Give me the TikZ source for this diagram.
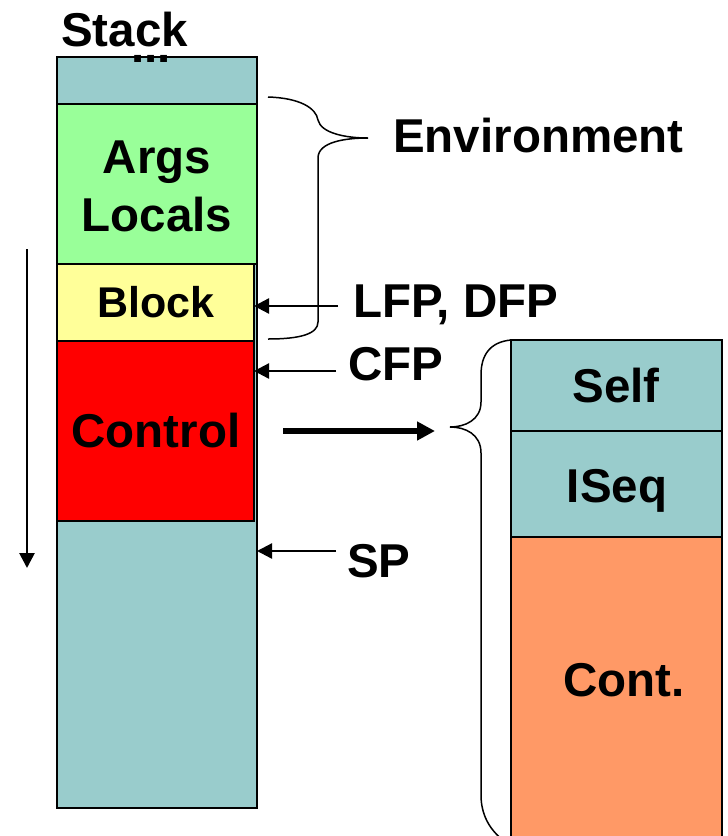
\documentclass[tikz,border=0pt]{standalone}
\usepackage{fontspec}
\setmainfont{Liberation Sans}
\usetikzlibrary{arrows.meta}
\definecolor{cellteal}{HTML}{99CCCC}
\definecolor{cellgreen}{HTML}{99FF99}
\definecolor{cellyellow}{HTML}{FFFF99}
\definecolor{cellred}{HTML}{FF0000}
\definecolor{cellorange}{HTML}{FF9966}

\begin{document}
\begin{tikzpicture}[x=1pt,y=-1pt,
    lbl/.style={font=\fontsize{47.5}{50}\selectfont\bfseries,inner sep=0pt},
    cell/.style={draw=black,line width=1.5pt,inner sep=0pt,outer sep=0pt,anchor=north west},
    ptr/.style={line width=2.3pt,-{Triangle[length=15pt,width=15pt]}},
    bigptr/.style={line width=6pt,-{Triangle[length=18pt,width=18pt]}},
    brace/.style={line width=1.5pt}]
    \path[use as bounding box] (0,0) rectangle (728,836);
    \clip (0,0) rectangle (728,836);
    % stack column
    \node[cell,fill=cellteal,minimum width=200pt,minimum height=751pt] (stack) at (57,57) {};
    \node[cell,fill=cellteal,minimum width=200pt,minimum height=47pt] (prev) at (57,57) {};
    \node[cell,fill=cellgreen,minimum width=200pt,minimum height=160pt] (env) at (57,104) {};
    \node[cell,fill=cellyellow,minimum width=197pt,minimum height=77pt] (block) at (57,264) {};
    \node[cell,fill=cellred,minimum width=197pt,minimum height=180pt] (control) at (57,341) {};
    % control frame
    \node[cell,fill=cellteal,minimum width=211pt,minimum height=91pt] (self) at (511,340) {};
    \node[cell,fill=cellteal,minimum width=211pt,minimum height=106pt] (iseq) at (511,431) {};
    \node[cell,fill=cellorange,minimum width=211pt,minimum height=320pt] (cont) at (511,537) {};
    % texts
    \node[lbl,anchor=base west] (stacklbl) at (61,46) {Stack};
    \node[lbl,anchor=base] (dots) at (151,62) {...};
    \node[lbl,anchor=base] (argslbl) at (157,173) {Args};
    \node[lbl,anchor=base] (localslbl) at (157,231) {Locals};
    \node[lbl,anchor=base,font=\fontsize{43}{46}\selectfont\bfseries] (blocklbl) at (156,317) {Block};
    \node[lbl,anchor=base] (controllbl) at (156,447) {Control};
    \node[lbl,anchor=base west] (envlbl) at (393,152) {Environment};
    \node[lbl,anchor=base west] (lfplbl) at (353,317) {LFP, DFP};
    \node[lbl,anchor=base west] (cfplbl) at (348,380) {CFP};
    \node[lbl,anchor=base west] (splbl) at (347,577) {SP};
    \node[lbl,anchor=base] (selflbl) at (616,402) {Self};
    \node[lbl,anchor=base] (iseqlbl) at (617,502) {ISeq};
    \node[lbl,anchor=base] (contlbl) at (624,696) {Cont.};
    % braces
    \coordinate (envtip) at (368,138);
    \coordinate (ctltip) at (450,427);
    \draw[brace] (268,97) .. controls (300,98) and (316,108) .. (318,120)
        .. controls (321,133) and (345,138) .. (envtip)
        .. controls (345,138) and (318,142) .. (318,158) -- (318,322)
        .. controls (318,334) and (300,339) .. (268,339);
    \draw[brace] (511,340) .. controls (490,342) and (481,355) .. (481,375) -- (481,402)
        .. controls (481,420) and (465,427) .. (ctltip)
        .. controls (465,427) and (481,434) .. (481,453) -- (481,795)
        .. controls (481,815) and (490,830) .. (503,840);
    % pointers
    \coordinate (lfptail) at (338,306);
    \coordinate (cfptail) at (336,371);
    \coordinate (sptail) at (336,551);
    \draw[ptr] (lfptail) -- (lfptail -| block.east);
    \draw[ptr] (cfptail) -- (cfptail -| control.east);
    \draw[ptr] (sptail) -- (sptail -| stack.east);
    \coordinate (ctltail) at (283,431);
    \coordinate (ctlhead) at (435,431);
    \draw[bigptr] (ctltail) -- (ctlhead);
    % growth direction
    \coordinate (growtop) at (27,249);
    \coordinate (growbot) at (27,568);
    \draw[ptr,line width=2.7pt] (growtop) -- (growbot);
\end{tikzpicture}
\end{document}
